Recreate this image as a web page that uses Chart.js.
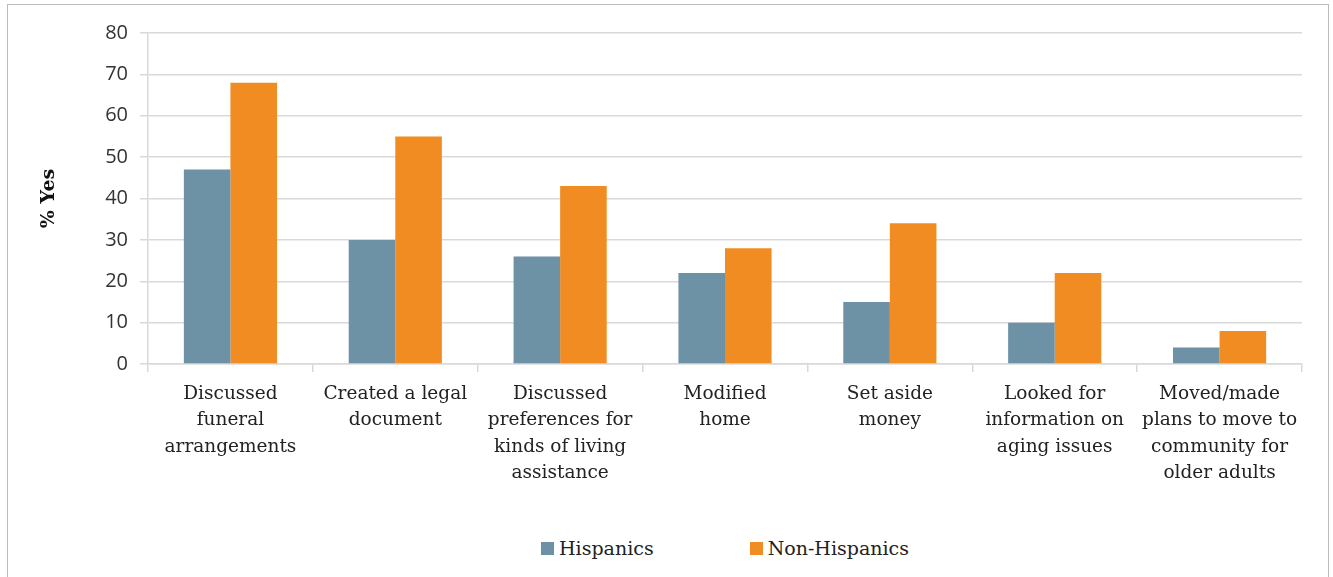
<!DOCTYPE html>
<html>
<head>
<meta charset="utf-8">
<script src="https://cdn.jsdelivr.net/npm/chart.js@4"></script>
<style>
  html,body{margin:0;padding:0;background:#fff;width:1333px;height:577px;overflow:hidden;}
  #frame{position:absolute;left:7px;top:4px;width:1322px;height:640px;border:1.5px solid #bcbcbc;box-sizing:border-box;}
  #wrap{position:absolute;left:0;top:0;width:1333px;height:520px;}
  #legend{position:absolute;top:537px;left:0;width:1450px;text-align:center;font-family:"DejaVu Serif",serif;font-size:19px;color:#222;}
  #legend span.item{display:inline-block;margin:0 48px;}
  #legend span.box{display:inline-block;width:13px;height:13px;margin-right:5px;vertical-align:0px;}
</style>
</head>
<body>
<div id="frame"></div>
<div id="wrap"><canvas id="c"></canvas></div>
<div id="legend"></div>
<script>
const categories = [
  ['Discussed', 'funeral', 'arrangements'],
  ['Created a legal', 'document'],
  ['Discussed', 'preferences for', 'kinds of living', 'assistance'],
  ['Modified', 'home'],
  ['Set aside', 'money'],
  ['Looked for', 'information on', 'aging issues'],
  ['Moved/made', 'plans to move to', 'community for', 'older adults']
];
const seriesNames = ['Hispanics', 'Non-Hispanics'];
const hispanics = [47, 30, 26, 22, 15, 10, 4];
const nonHispanics = [68, 55, 43, 28, 34, 22, 8];
const yTicks = [0, 10, 20, 30, 40, 50, 60, 70, 80];
const colors = ['#6d91a5', '#f08c22'];

const chart = new Chart(document.getElementById('c'), {
  type: 'bar',
  data: {
    labels: categories,
    datasets: [
      {label: seriesNames[0], data: hispanics, backgroundColor: colors[0], barPercentage: 1, categoryPercentage: 0.565},
      {label: seriesNames[1], data: nonHispanics, backgroundColor: colors[1], barPercentage: 1, categoryPercentage: 0.565}
    ]
  },
  options: {
    responsive: true,
    maintainAspectRatio: false,
    animation: false,
    layout: {padding: {top: 33, right: 31, left: 38, bottom: 0}},
    plugins: {legend: {display: false}, tooltip: {enabled: false}},
    scales: {
      x: {
        afterFit: s => { s.height = 156; },
        grid: {display: true, offset: true, drawOnChartArea: false, color: '#d9d9d9', lineWidth: 1.5, tickLength: 8},
        border: {color: '#d9d9d9', width: 1.5},
        ticks: {color: '#222', font: {family: '"DejaVu Serif", serif', size: 18.5, lineHeight: 1.43}, maxRotation: 0, autoSkip: false, padding: 9}
      },
      y: {
        min: 0, max: 80,
        afterBuildTicks: s => { s.ticks = yTicks.map(v => ({value: v})); },
        afterFit: s => { s.width = 110; },
        grid: {color: '#d9d9d9', lineWidth: 1.5, tickLength: 8},
        border: {color: '#d9d9d9', width: 1.5},
        ticks: {color: '#333', font: {family: '"Open Sans", sans-serif', size: 20}, padding: 12},
        title: {display: true, text: '% Yes', color: '#111', font: {family: '"DejaVu Serif", serif', size: 19, weight: 'bold'}, padding: 0}
      }
    }
  }
});

document.getElementById('legend').innerHTML = seriesNames.map((n, i) =>
  `<span class="item"><span class="box" style="background:${colors[i]}"></span>${n}</span>`).join('');
</script>
</body>
</html>
